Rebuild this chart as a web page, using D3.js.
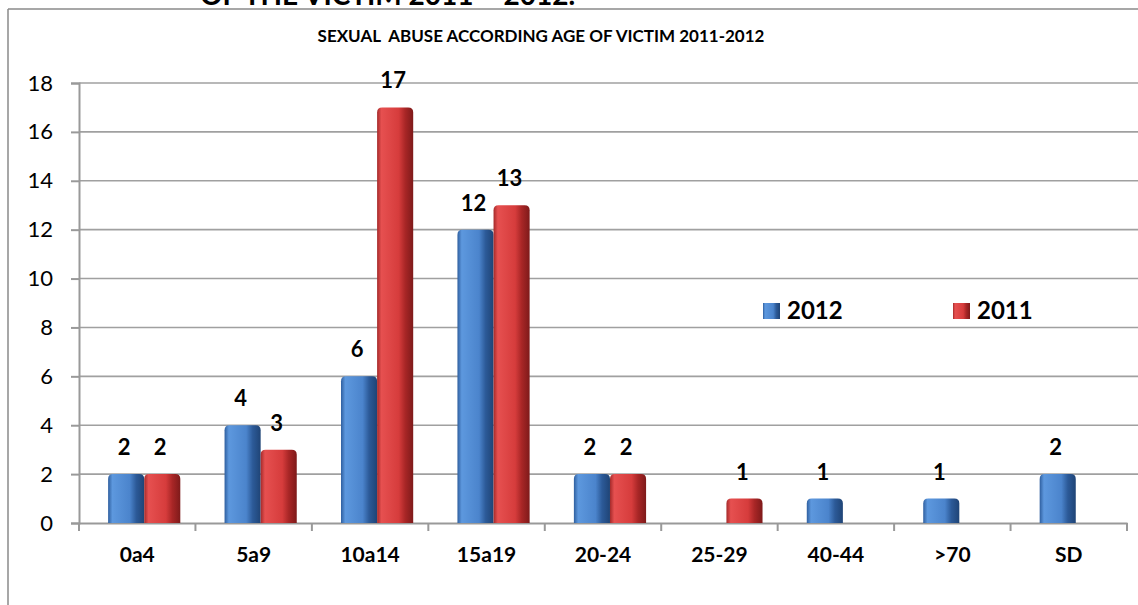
<!DOCTYPE html>
<html>
<head>
<meta charset="utf-8">
<script src="https://cdn.jsdelivr.net/npm/d3@7"></script>
<style>
  body { margin: 0; background: #fff; }
  svg { display: block; font-family: Lato, "Open Sans", sans-serif; }
</style>
</head>
<body>
<svg id="chart" width="1138" height="605"></svg>
<script>
// data
const categories = ["0a4", "5a9", "10a14", "15a19", "20-24", "25-29", "40-44", ">70", "SD"];
const series = ["2012", "2011"];
const values2012 = [2, 4, 6, 12, 2, 0, 1, 1, 2];
const values2011 = [2, 3, 17, 13, 2, 1, 0, 0, 0];
const yTicks = [0, 2, 4, 6, 8, 10, 12, 14, 16, 18];

const svg = d3.select("#chart");
const W = 1138, H = 605;

const plot = { left: 79, right: 1127, top: 83, bottom: 523 };

const x0 = d3.scaleBand().domain(categories).range([plot.left, plot.right]);
const bw = x0.bandwidth();
const x1 = d3.scaleBand().domain(series).range([bw * 0.25, bw * 0.87]);
const y = d3.scaleLinear().domain([0, 18]).range([plot.bottom, plot.top]);

const colors = {
    "2012": ["#2f5f9f", "#5d98de", "#4b84cc", "#2c5a98", "#1f4476"],
    "2011": ["#a52a2a", "#e65050", "#d63c3c", "#a82626", "#7e1a1a"]
};

// gradients for the pseudo 3D look
const defs = svg.append("defs");
series.forEach(s => {
    const g = defs.append("linearGradient")
        .attr("id", "grad" + s)
        .attr("x1", "0").attr("x2", "1").attr("y1", "0").attr("y2", "0");
    const c = colors[s];
    [[0, c[0]], [0.12, c[1]], [0.6, c[2]], [0.78, c[3]], [1, c[4]]].forEach(([o, col]) => {
        g.append("stop").attr("offset", o).attr("stop-color", col);
    });
});

// frame
svg.append("line").attr("x1", 8).attr("x2", W).attr("y1", 9).attr("y2", 9)
    .attr("stroke", "#8a8a8a").attr("stroke-width", 1.5);
svg.append("line").attr("x1", 8).attr("x2", 8).attr("y1", 9).attr("y2", H)
    .attr("stroke", "#8a8a8a").attr("stroke-width", 1.5);

// heading of the page above, cut by the top edge like in the source
svg.append("text")
    .attr("x", 200).attr("y", 5)
    .attr("font-size", 28).attr("font-weight", "bold")
    .text("OF THE VICTIM 2011 \u2013 2012.");

// chart title
svg.append("text")
    .attr("x", 541).attr("y", 42)
    .attr("text-anchor", "middle")
    .attr("font-size", 17).attr("font-weight", "bold")
    .style("white-space", "pre")
    .text("SEXUAL  ABUSE ACCORDING AGE OF VICTIM 2011-2012");

// gridlines
svg.append("g").selectAll("line")
    .data(yTicks.filter(d => d > 0))
    .join("line")
    .attr("x1", plot.left).attr("x2", W)
    .attr("y1", d => y(d)).attr("y2", d => y(d))
    .attr("stroke", "#a0a0a0").attr("stroke-width", 1.6);

// y axis
const yAxis = svg.append("g")
    .attr("transform", `translate(${plot.left},0)`)
    .call(d3.axisLeft(y).tickValues(yTicks).tickSize(8).tickPadding(18));
yAxis.select(".domain").attr("stroke", "#999").attr("stroke-width", 2);
yAxis.selectAll(".tick line").attr("stroke", "#999").attr("stroke-width", 2);
yAxis.selectAll("text").attr("font-size", 22).attr("fill", "#000")
    .attr("font-family", "Lato, sans-serif");

// x axis
const xAxis = svg.append("g")
    .attr("transform", `translate(0,${plot.bottom})`)
    .call(d3.axisBottom(x0).tickSize(0).tickPadding(24));
xAxis.select(".domain").attr("stroke", "#999").attr("stroke-width", 2);
xAxis.selectAll("text").attr("font-size", 21).attr("font-weight", "bold").attr("fill", "#000")
    .attr("font-family", "Lato, sans-serif");
xAxis.selectAll(".sep")
    .data(d3.range(categories.length + 1))
    .join("line")
    .attr("class", "sep")
    .attr("x1", i => plot.left + i * bw).attr("x2", i => plot.left + i * bw)
    .attr("y1", 0).attr("y2", 8)
    .attr("stroke", "#999").attr("stroke-width", 2);

// bars
const rows = categories.map((c, i) => ({ cat: c, "2012": values2012[i], "2011": values2011[i] }));
const groups = svg.append("g").selectAll("g")
    .data(rows)
    .join("g")
    .attr("transform", d => `translate(${x0(d.cat)},0)`);

groups.selectAll("path")
    .data(d => series.map(s => ({ s, v: d[s] })).filter(e => e.v > 0))
    .join("path")
    .attr("fill", d => `url(#grad${d.s})`)
    .attr("d", d => {
        const bx = x1(d.s), w = x1.bandwidth(), top = y(d.v), b = y(0), r = 5;
        return `M${bx},${b} L${bx},${top + r} Q${bx},${top} ${bx + r},${top} ` +
               `L${bx + w - r},${top} Q${bx + w},${top} ${bx + w},${top + r} L${bx + w},${b} Z`;
    });

// data labels
groups.selectAll("text")
    .data(d => series.map(s => ({ s, v: d[s] })).filter(e => e.v > 0))
    .join("text")
    .attr("x", d => x1(d.s) + x1.bandwidth() / 2 - 2)
    .attr("y", d => y(d.v) - 19)
    .attr("text-anchor", "middle")
    .attr("font-size", 22).attr("font-weight", "bold")
    .text(d => d.v);

// legend
const legend = svg.append("g");
const legendX = { "2012": 763, "2011": 953 };
series.forEach(s => {
    legend.append("rect")
        .attr("x", legendX[s]).attr("y", 303)
        .attr("width", 17).attr("height", 16)
        .attr("fill", `url(#grad${s})`);
    legend.append("text")
        .attr("x", legendX[s] + 24).attr("y", 319)
        .attr("font-size", 24).attr("font-weight", "bold")
        .text(s);
});
</script>
</body>
</html>
